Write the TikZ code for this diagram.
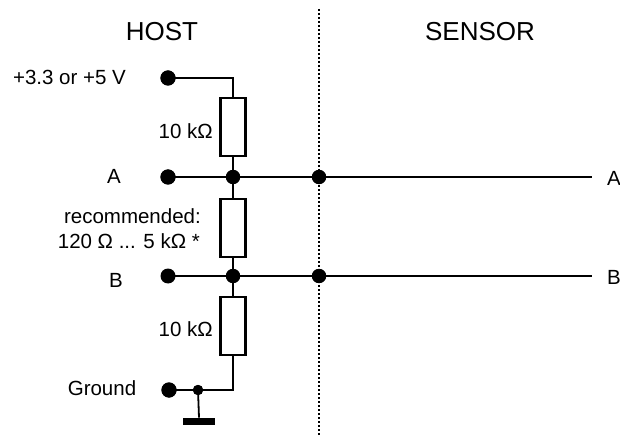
\documentclass[tikz,border=0pt]{standalone}
\usepackage{fontspec}
\setmainfont{Liberation Sans}
\begin{document}
\begin{tikzpicture}[x=1pt,y=-1pt,
  wire/.style={line width=1.8pt},
  bigdot/.style={circle,fill=black,inner sep=0pt,minimum size=15pt},
  jdot/.style={circle,fill=black,inner sep=0pt,minimum size=14pt},
  smalldot/.style={circle,fill=black,inner sep=0pt,minimum size=10pt},
  res/.style={rectangle,draw=black,fill=white,line width=2.6pt,inner sep=0pt,minimum width=25pt,minimum height=58pt},
  lbl/.style={inner sep=0pt,font=\fontsize{20.5}{24}\selectfont},
  head/.style={inner sep=0pt,font=\fontsize{26}{30}\selectfont}]
\useasboundingbox (0,0) rectangle (620,435);
% headings
\node[head] (host) at (162,32) {HOST};
\node[head] (sensor) at (480,32) {SENSOR};
% separator
\coordinate (septop) at (319,9);
\coordinate (sepbot) at (319,435);
\draw[line width=1.8pt,dash pattern=on 1.8pt off 2.2pt] (septop) -- (sepbot);
% labels
\node[lbl] (lv) at (69.5,77) {+3.3 or +5 V};
\node[lbl,anchor=east] (lr1) at (213,131) {10 kΩ};
\node[lbl] (la) at (114,176) {A};
\node[lbl,anchor=east] (lrec) at (201,216) {recommended:};
\node[lbl,anchor=east] (lrange) at (200,241) {120 Ω ... 5 kΩ *};
\node[lbl] (lb) at (116,280) {B};
\node[lbl,anchor=east] (lr3) at (213,329) {10 kΩ};
\node[lbl] (lg) at (102,388) {Ground};
\node[lbl,anchor=west] (ra) at (607,178) {A};
\node[lbl,anchor=west] (rb) at (607,277) {B};
% resistors
\node[res] (R1) at (233,127) {};
\node[res] (R2) at (233,228) {};
\node[res] (R3) at (233,326) {};
% dots
\node[bigdot] (vdot) at (168,78) {};
\node[bigdot] (adot) at (168,177) {};
\node[jdot] (ja) at (233,177) {};
\node[jdot] (sa) at (319,177) {};
\node[bigdot] (bdot) at (168,276) {};
\node[jdot] (jb) at (233,276) {};
\node[jdot] (sb) at (319,276) {};
\node[bigdot] (gdot) at (169,390) {};
\node[smalldot] (gs) at (198,390) {};
\node[rectangle,fill=black,inner sep=0pt,minimum width=32pt,minimum height=7.5pt] (gbar) at (199,421.5) {};
\coordinate (aend) at (592,177);
\coordinate (bend) at (592,276);
% wires
\draw[wire] (vdot.center) -- (vdot.center -| R1.north) -- (R1.north);
\draw[wire] (R1.south) -- (ja.center);
\draw[wire] (adot.center) -- (ja.center) -- (sa.center) -- (aend);
\draw[wire] (ja.center) -- (R2.north);
\draw[wire] (R2.south) -- (jb.center);
\draw[wire] (bdot.center) -- (jb.center) -- (sb.center) -- (bend);
\draw[wire] (jb.center) -- (R3.north);
\draw[wire] (R3.south) -- (R3.south |- gs.center) -- (gs.center) -- (gdot.center);
\draw[wire] (gs.center) -- (gbar.north);
% redraw dots on top
\foreach \n in {vdot,adot,gdot}{\fill (\n) circle (7.6pt);}
\foreach \n in {ja,sa,jb,sb}{\fill (\n) circle (7.2pt);}
\fill (gs) circle (5.2pt);
\end{tikzpicture}
\end{document}
